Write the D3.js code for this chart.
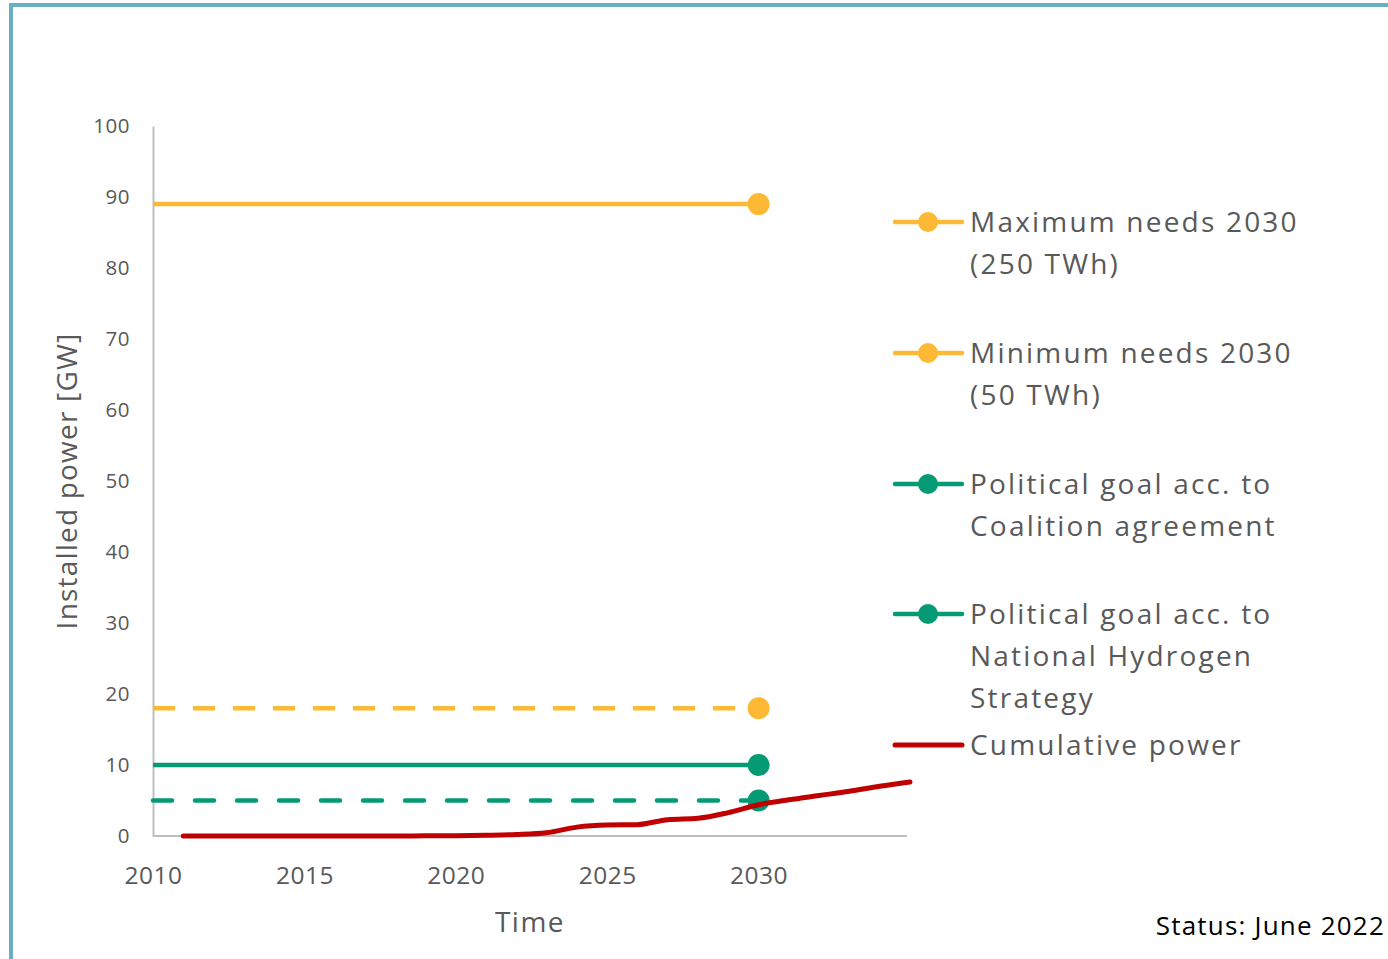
<!DOCTYPE html>
<html><head><meta charset="utf-8">
<script src="https://cdn.jsdelivr.net/npm/d3@7"></script>
<style>
body{margin:0;background:#fff;}
text{font-family:"Open Sans","Noto Sans",sans-serif;}
</style></head>
<body><svg id="c" width="1388" height="959"></svg>
<script>
const yTicks=[0,10,20,30,40,50,60,70,80,90,100];
const xTicks=[2010,2015,2020,2025,2030];
const targetYears=[2010,2030];
const maxNeeds=[89,89];
const minNeeds=[18,18];
const coalition=[10,10];
const hydrogen=[5,5];
const cumYears=[2011,2012,2013,2014,2015,2016,2017,2018,2019,2020,2021,2022,2023,2024,2025,2026,2027,2028,2029,2030,2031,2032,2033,2034,2035];
const cumPower=[0,0,0,0,0,0,0,0,0.02,0.05,0.1,0.2,0.45,1.25,1.55,1.6,2.3,2.5,3.3,4.4,5.1,5.7,6.3,7.0,7.6];
const legendLabels=[["Maximum needs 2030","(250 TWh)"],["Minimum needs 2030","(50 TWh)"],["Political goal acc. to","Coalition agreement"],["Political goal acc. to","National Hydrogen","Strategy"],["Cumulative power"]];

const svg=d3.select("#c");
svg.append("rect").attr("x",11).attr("y",5).attr("width",1400).attr("height",980)
  .attr("fill","none").attr("stroke","#6aaec2").attr("stroke-width",4);

const x=d3.scaleLinear().domain([2010,2035]).range([153,910]);
const y=d3.scaleLinear().domain([0,100]).range([836,126]);
const ORANGE="#fdb933", GREEN="#049a74", RED="#c00000", GREY="#595959";

// axes
const yAx=svg.append("g").attr("transform","translate(153,0)")
  .call(d3.axisLeft(y).tickValues(yTicks).tickSize(0).tickPadding(23));
yAx.select(".domain").attr("stroke","#bfbfbf").attr("stroke-width",2);
yAx.selectAll("text").attr("font-size",20.5).attr("fill",GREY).attr("letter-spacing",0.5).attr("dy","0.3em");
const xAx=svg.append("g").attr("transform","translate(0,836)")
  .call(d3.axisBottom(x).tickValues(xTicks).tickFormat(d3.format("d")).tickSize(0).tickPadding(31));
xAx.select(".domain").attr("stroke","#bfbfbf").attr("stroke-width",2).attr("d","M153,0H907");
xAx.selectAll("text").attr("font-size",24.5).attr("fill",GREY).attr("letter-spacing",0.5);

svg.append("text").attr("transform","translate(77,481) rotate(-90)").attr("text-anchor","middle")
  .attr("font-size",28).attr("fill",GREY).attr("letter-spacing",1.2).text("Installed power [GW]");
svg.append("text").attr("x",530).attr("y",932).attr("text-anchor","middle")
  .attr("font-size",28).attr("fill",GREY).attr("letter-spacing",1.5).text("Time");
svg.append("text").attr("x",1385).attr("y",935).attr("text-anchor","end")
  .attr("font-size",26).attr("fill","#000").attr("letter-spacing",1.2).text("Status: June 2022");

const line=d3.line().x((d,i)=>x(d[0])).y(d=>y(d[1]));
const series=[
  {v:maxNeeds,c:ORANGE,dash:null,cap:"butt"},
  {v:minNeeds,c:ORANGE,dash:"22,18",cap:"butt"},
  {v:coalition,c:GREEN,dash:null,cap:"butt"},
  {v:hydrogen,c:GREEN,dash:"19,23",cap:"round"}
];
series.forEach(s=>{
  const pts=targetYears.map((yr,i)=>[yr,s.v[i]]);
  svg.append("path").attr("d",line(pts)).attr("fill","none").attr("stroke",s.c)
    .attr("stroke-width",4.5).attr("stroke-dasharray",s.dash).attr("stroke-linecap",s.cap);
  svg.append("circle").attr("cx",x(pts[1][0])).attr("cy",y(pts[1][1])).attr("r",11).attr("fill",s.c);
});
const cum=cumYears.map((yr,i)=>[yr,cumPower[i]]);
svg.append("path").attr("d",line.curve(d3.curveMonotoneX)(cum)).attr("fill","none")
  .attr("stroke",RED).attr("stroke-width",5).attr("stroke-linecap","round");

// legend
const legY=[222,353,484,614,745];
const cols=[ORANGE,ORANGE,GREEN,GREEN,RED];
legY.forEach((ly,i)=>{
  const g=svg.append("g");
  g.append("line").attr("x1",895).attr("x2",962).attr("y1",ly).attr("y2",ly)
    .attr("stroke",cols[i]).attr("stroke-width",i==4?5:4.5).attr("stroke-linecap","round");
  if(i<4) g.append("circle").attr("cx",928).attr("cy",ly).attr("r",10).attr("fill",cols[i]);
  legendLabels[i].forEach((t,j)=>{
    g.append("text").attr("x",970).attr("y",ly+42*j).attr("dy","0.35em")
      .attr("font-size",28).attr("fill",GREY).attr("letter-spacing",2.2).text(t);
  });
});
</script></body></html>
